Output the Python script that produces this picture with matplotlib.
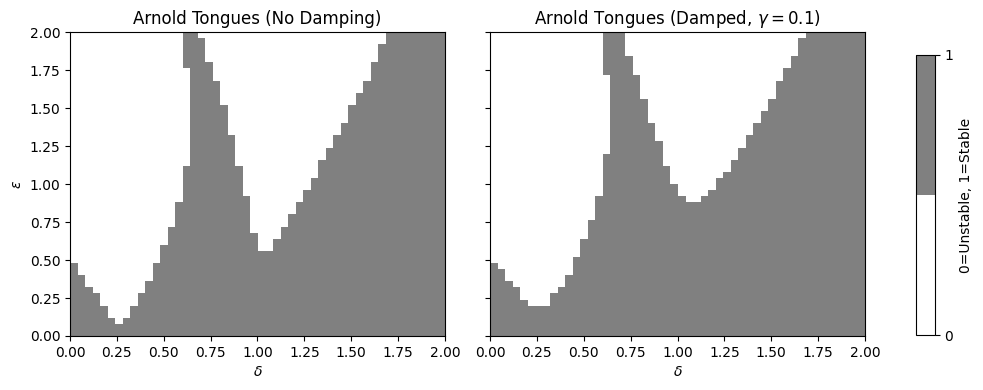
import numpy as np
import matplotlib
matplotlib.use('Agg')
import matplotlib.pyplot as plt
from matplotlib.colors import ListedColormap

# delta axis: 50 columns on [0, 2], epsilon axis: 50 rows on [0, 2]
n_delta = 50
n_eps = 50

# top of the stable (gray) region from eps=0, per delta column
no_damp_top = [0.48, 0.40, 0.32, 0.28, 0.20, 0.12, 0.08, 0.12, 0.20, 0.28,
               0.36, 0.48, 0.60, 0.72, 0.88, 1.12, 2.00, 1.96, 1.80, 1.68,
               1.52, 1.32, 1.12, 0.92, 0.68, 0.56, 0.56, 0.64, 0.72, 0.80,
               0.88, 0.96, 1.04, 1.16, 1.24, 1.32, 1.40, 1.52, 1.60, 1.68,
               1.80, 1.92, 2.00, 2.00, 2.00, 2.00, 2.00, 2.00, 2.00, 2.00]
damped_top = [0.48, 0.44, 0.36, 0.32, 0.24, 0.20, 0.20, 0.20, 0.28, 0.32,
              0.40, 0.52, 0.64, 0.76, 0.92, 1.20, 2.00, 2.00, 1.84, 1.72,
              1.56, 1.40, 1.28, 1.12, 1.00, 0.92, 0.88, 0.88, 0.92, 0.96,
              1.04, 1.08, 1.16, 1.24, 1.32, 1.40, 1.48, 1.56, 1.68, 1.76,
              1.84, 1.96, 2.00, 2.00, 2.00, 2.00, 2.00, 2.00, 2.00, 2.00]

# extra stable band above an unstable gap: column -> start of band
no_damp_band = {15: 1.76}
damped_band = {15: 1.72}


def stability_map(top, band):
    eps = (np.arange(n_eps) + 0.5) * 2.0 / n_eps
    grid = np.zeros((n_eps, n_delta))
    for j in range(n_delta):
        stable = eps < top[j]
        if j in band:
            stable |= eps >= band[j]
        grid[:, j] = stable
    return grid


cmap = ListedColormap(['white', 'gray'])

fig = plt.figure(figsize=(9.83, 3.9), dpi=100)
ax1 = fig.add_axes([0.0712, 0.1385, 0.3815, 0.779])
ax2 = fig.add_axes([0.4985, 0.1385, 0.3815, 0.779], sharey=ax1)
cax = fig.add_axes([0.932, 0.141, 0.019, 0.718])

panels = [(ax1, no_damp_top, no_damp_band, 'Arnold Tongues (No Damping)'),
          (ax2, damped_top, damped_band, r'Arnold Tongues (Damped, $\gamma = 0.1$)')]
for ax, top, band, title in panels:
    im = ax.imshow(stability_map(top, band), extent=[0, 2, 0, 2], origin='lower',
                   aspect='auto', cmap=cmap, vmin=0, vmax=1, interpolation='nearest')
    ax.set_title(title)
    ax.set_xlabel(r'$\delta$')
    ax.set_xticks(np.arange(0, 2.01, 0.25))
    ax.set_yticks(np.arange(0, 2.01, 0.25))

ax1.set_ylabel(r'$\epsilon$')
plt.setp(ax2.get_yticklabels(), visible=False)

cb = fig.colorbar(im, cax=cax, ticks=[0, 1])
cb.set_label('0=Unstable, 1=Stable')

fig.savefig('out.png', dpi=100)
